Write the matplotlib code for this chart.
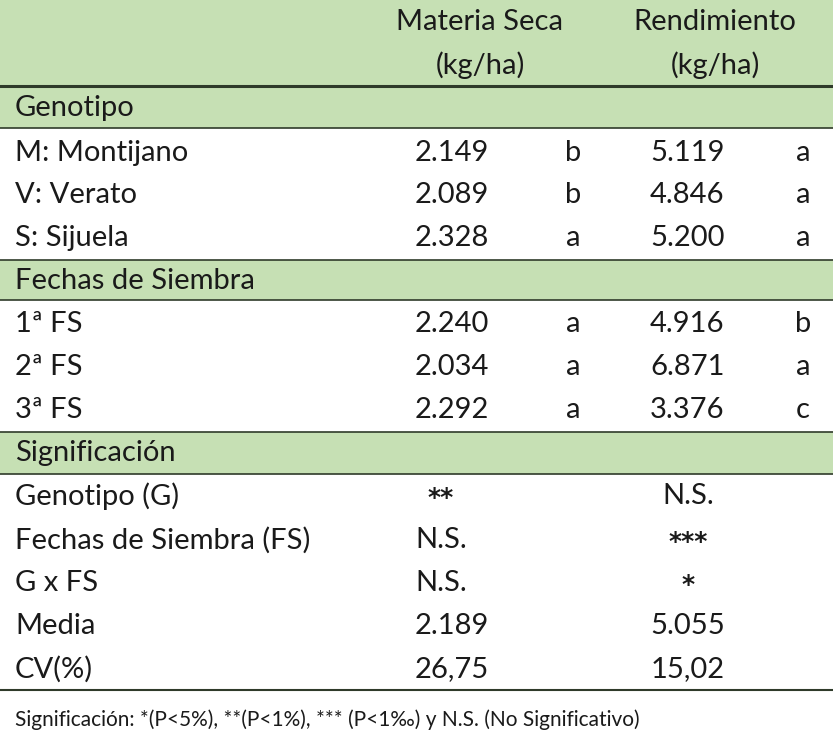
import matplotlib
matplotlib.use("Agg")
import matplotlib.pyplot as plt
from matplotlib.patches import Rectangle

plt.rcParams['font.family'] = ['Lato', 'DejaVu Sans']

col_headers = [("Materia Seca", "(kg/ha)"), ("Rendimiento", "(kg/ha)")]
sec1 = "Genotipo"
genotipos = ["M: Montijano", "V: Verato", "S: Sijuela"]
gen_ms = ["2.149", "2.089", "2.328"]
gen_ms_l = ["b", "b", "a"]
gen_rd = ["5.119", "4.846", "5.200"]
gen_rd_l = ["a", "a", "a"]
sec2 = "Fechas de Siembra"
fechas = ["1ª FS", "2ª FS", "3ª FS"]
fs_ms = ["2.240", "2.034", "2.292"]
fs_ms_l = ["a", "a", "a"]
fs_rd = ["4.916", "6.871", "3.376"]
fs_rd_l = ["b", "a", "c"]
sec3 = "Significación"
sig_rows = ["Genotipo (G)", "Fechas de Siembra (FS)", "G x FS", "Media", "CV(%)"]
sig_ms = ["**", "N.S.", "N.S.", "2.189", "26,75"]
sig_rd = ["N.S.", "***", "*", "5.055", "15,02"]
footnote = "Significación: *(P<5%), **(P<1%), *** (P<1‰) y N.S. (No Significativo)"

W, H = 833, 735
fig = plt.figure(figsize=(W/100, H/100), dpi=100)
ax = fig.add_axes([0, 0, 1, 1])
ax.set_xlim(0, W); ax.set_ylim(H, 0); ax.axis('off')
green = '#c6e0b4'; dark = '#2f3b2a'
fs = 21

def band(y0, y1):
    ax.add_patch(Rectangle((0, y0), W, y1 - y0, color=green, lw=0))

band(0, 86); band(88, 128); band(260, 300); band(432, 474)
for y, lw in [(86, 2.2), (128, 1.2), (260, 1.2), (300, 1.2), (432, 1.2), (474, 1.2), (690, 1.5)]:
    ax.plot([0, W], [y, y], color=dark, lw=lw)

def t(x, y, s, ha='left', size=fs, **kw):
    ax.text(x, y, s, ha=ha, va='center', fontsize=size, color='#1a1a1a', **kw)

def val(x, y, s, ha):
    if '*' in s:
        t(x, y + 2, s, ha, size=18, family='DejaVu Sans', fontweight='bold')
    else:
        t(x, y, s, ha)

for (a, b), x in zip(col_headers, [480, 715]):
    t(x, 22, a, 'center'); t(x, 65, b, 'center')
t(15, 108, sec1); t(15, 281, sec2); t(15, 453, sec3)

def block(names, ms, msl, rd, rdl, ys):
    for n, a, al, r, rl, y in zip(names, ms, msl, rd, rdl, ys):
        t(15, y, n); t(415, y, a); t(573, y, al, 'center')
        t(650, y, r); t(803, y, rl, 'center')

block(genotipos, gen_ms, gen_ms_l, gen_rd, gen_rd_l, [153, 195, 238])
block(fechas, fs_ms, fs_ms_l, fs_rd, fs_rd_l, [324, 367, 410])
for n, a, r, y in zip(sig_rows, sig_ms, sig_rd, [496, 540, 583, 626, 669]):
    t(15, y, n)
    if '*' in a:
        val(441, y, a, 'center')
    else:
        t(415, y, a)
    val(688, y, r, 'center')
t(15, 720, footnote, size=15)
fig.savefig("out.png", dpi=100)
